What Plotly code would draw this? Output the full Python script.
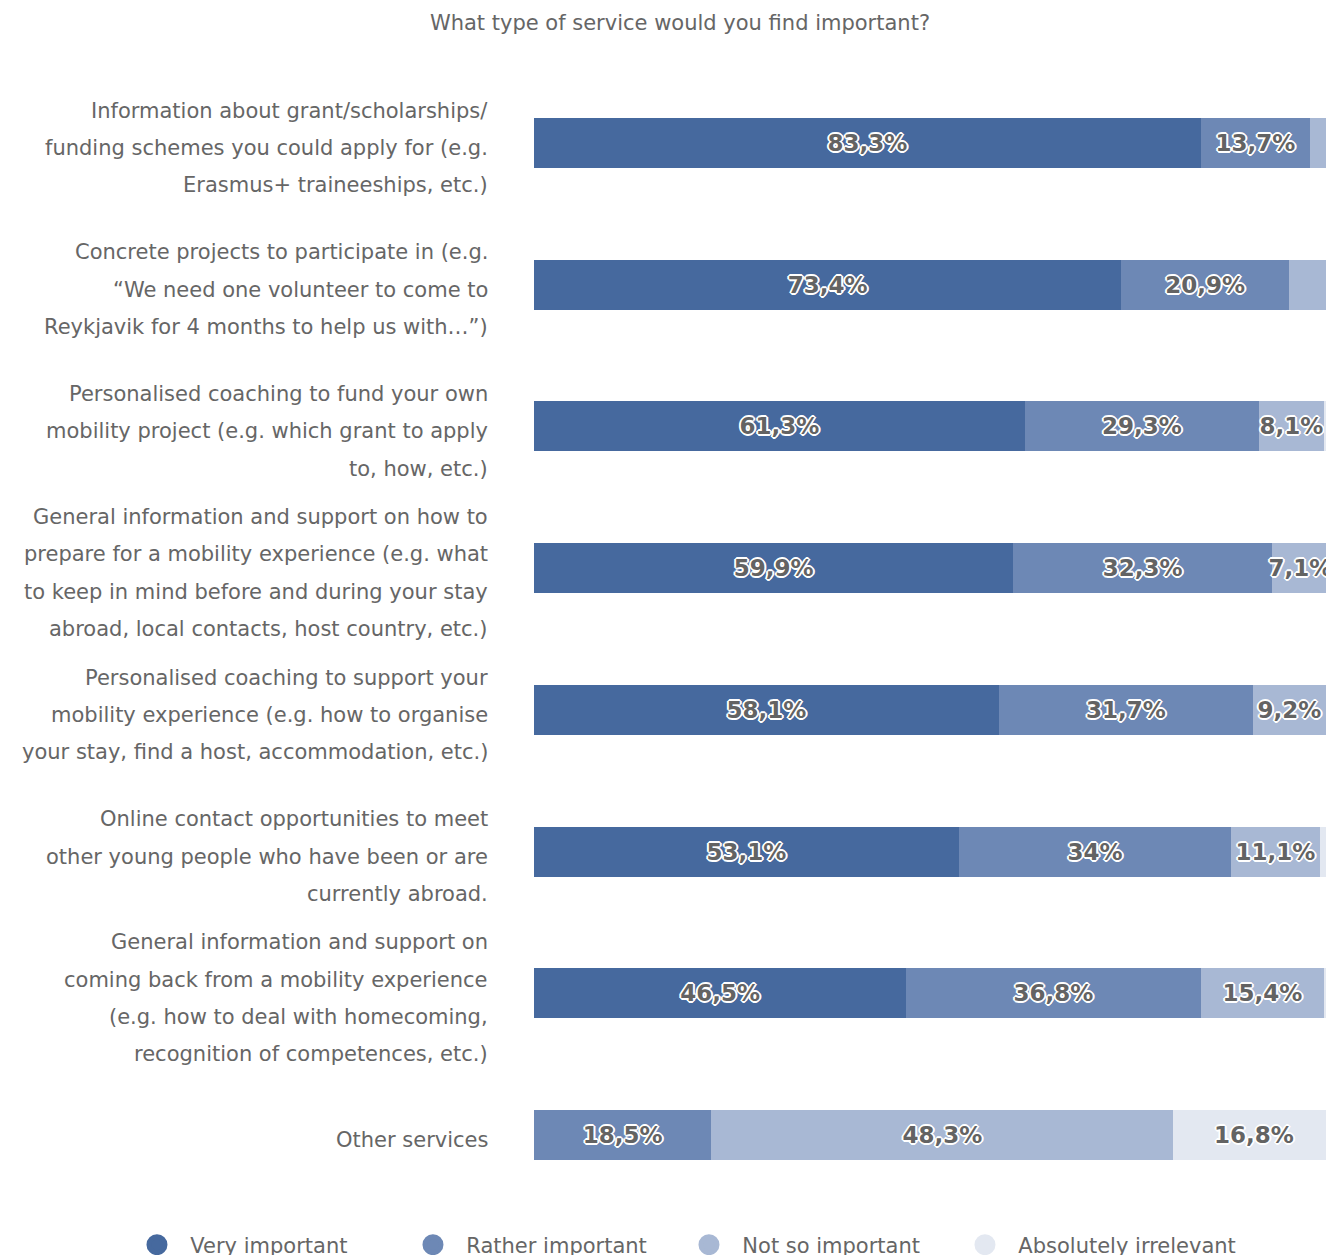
import plotly.graph_objects as go

# Survey items, one list of display lines per row (top to bottom)
category_lines = [
    ["Information about grant/scholarships/",
     "funding schemes you could apply for (e.g.",
     "Erasmus+ traineeships, etc.)"],
    ["Concrete projects to participate in (e.g.",
     "“We need one volunteer to come to",
     "Reykjavik for 4 months to help us with…”)"],
    ["Personalised coaching to fund your own",
     "mobility project (e.g. which grant to apply",
     "to, how, etc.)"],
    ["General information and support on how to",
     "prepare for a mobility experience (e.g. what",
     "to keep in mind before and during your stay",
     "abroad, local contacts, host country, etc.)"],
    ["Personalised coaching to support your",
     "mobility experience (e.g. how to organise",
     "your stay, find a host, accommodation, etc.)"],
    ["Online contact opportunities to meet",
     "other young people who have been or are",
     "currently abroad."],
    ["General information and support on",
     "coming back from a mobility experience",
     "(e.g. how to deal with homecoming,",
     "recognition of competences, etc.)"],
    ["Other services"],
]
categories = [" ".join(lines) for lines in category_lines]

# Share of answers (%) per rating
very_important = [83.3, 73.4, 61.3, 59.9, 58.1, 53.1, 46.5, 0.0]
rather_important = [13.7, 20.9, 29.3, 32.3, 31.7, 34.0, 36.8, 18.5]
not_so_important = [2.7, 5.1, 8.1, 7.1, 9.2, 11.1, 15.4, 48.3]
absolutely_irrelevant = [0.3, 0.6, 1.3, 0.7, 1.0, 1.8, 1.3, 16.8]

series = [
    ("Very important", very_important, "#46699e"),
    ("Rather important", rather_important, "#6d88b5"),
    ("Not so important", not_so_important, "#a8b8d4"),
    ("Absolutely irrelevant", absolutely_irrelevant, "#e3e8f1"),
]

LABEL_MIN = 6.0  # segments narrower than this carry no label


def pct_label(v):
    if v < LABEL_MIN:
        return ""
    return f"{v:g}".replace(".", ",") + "%"


outline = ("2px 0 0 #fff, -2px 0 0 #fff, 0 2px 0 #fff, 0 -2px 0 #fff, "
           "1px 1px 0 #fff, -1px -1px 0 #fff, 1px -1px 0 #fff, -1px 1px 0 #fff")

fig = go.Figure()
for name, values, color in series:
    fig.add_trace(go.Bar(
        y=categories,
        x=values,
        orientation="h",
        name=name,
        marker=dict(color=color, line=dict(width=0)),
        text=[pct_label(v) for v in values],
        textposition="inside",
        insidetextanchor="middle",
        textangle=0,
        constraintext="none",
        textfont=dict(family="DejaVu Sans", size=23, color="#636363",
                      weight="bold", shadow=outline),
        hoverinfo="skip",
        showlegend=False,
    ))

# Round legend entries for the four ratings
for name, _, color in series:
    fig.add_trace(go.Scatter(
        x=[None], y=[None], mode="markers", name="\u00a0\u00a0" + name,
        marker=dict(symbol="circle", size=16, color=color,
                    line=dict(width=5, color=color)),
        hoverinfo="skip",
    ))

# Multi-line row labels to the left of the bars
LINE_STEP = 37.3
for cat, lines in zip(categories, category_lines):
    n = len(lines)
    for i, line in enumerate(lines):
        fig.add_annotation(
            x=0, xref="paper", y=cat, yref="y",
            text=line, showarrow=False,
            xanchor="right", yanchor="middle", xshift=-44,
            yshift=((n - 1) / 2 - i) * LINE_STEP - 5,
            font=dict(family="DejaVu Sans", size=21, color="#666666"),
        )

fig.update_layout(
    width=1326, height=1255,
    margin=dict(l=534, r=0, t=72, b=49, autoexpand=False),
    paper_bgcolor="white", plot_bgcolor="white",
    barmode="stack", barnorm="percent", bargap=0.647,
    title=dict(text="What type of service would you find important?",
               x=0.5128, xanchor="center", y=1 - 23 / 1255, yanchor="middle",
               font=dict(family="DejaVu Sans", size=21, color="#666666")),
    xaxis=dict(range=[0, 98.96], visible=False, fixedrange=True),
    yaxis=dict(autorange="reversed", showticklabels=False, showgrid=False,
               zeroline=False, ticks="", fixedrange=True),
    legend=dict(orientation="h", x=-0.5013, xanchor="left",
                y=-0.0344, yanchor="middle", itemsizing="trace",
                traceorder="normal",
                entrywidth=231, entrywidthmode="pixels",
                font=dict(family="DejaVu Sans", size=21, color="#666666")),
)

fig.write_html("out.html")
